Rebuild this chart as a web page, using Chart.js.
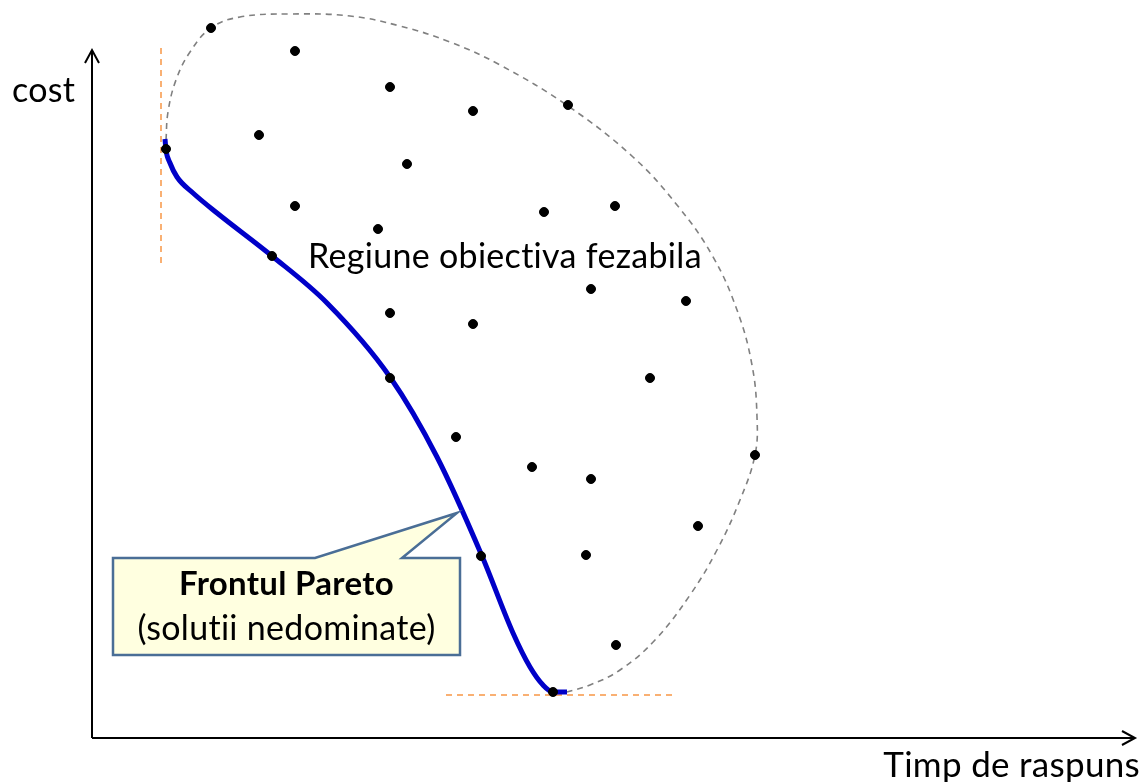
<!DOCTYPE html>
<html>
<head>
<meta charset="utf-8">
<script src="https://cdn.jsdelivr.net/npm/chart.js@4.4.1/dist/chart.umd.min.js"></script>
<style>
  html, body { margin: 0; padding: 0; background: #ffffff; }
  #wrap { width: 1143px; height: 782px; }
</style>
</head>
<body>
<div id="wrap"><canvas id="pareto" width="1143" height="782"></canvas></div>
<script>
// Spatiul obiectivelor: x = timp de raspuns, y = cost (unitati arbitrare)
const solX = [11.9, 20.3, 29.8, 38.1, 47.6, 16.7, 31.5, 7.4, 20.3, 28.6, 45.2, 52.3, 18.0, 49.9,
              59.4, 29.8, 38.1, 55.8, 29.8, 36.4, 44.0, 49.9, 66.3, 60.6, 38.9, 49.4, 52.4, 46.1];
const solY = [71.0, 68.7, 65.1, 62.7, 63.3, 60.3, 57.4, 58.9, 53.2, 50.9, 52.6, 53.2, 48.2, 44.9,
              43.7, 42.5, 41.4, 36.0, 36.0, 30.1, 27.1, 25.9, 28.3, 21.2, 18.2, 18.3, 9.3, 4.6];

// frontul Pareto (curba albastra)
const frontX = [7.3, 7.4, 7.8, 8.5, 10.1, 12.5, 18.0, 23.5, 29.8, 34.5, 39.0, 42.1, 43.8, 45.1, 46.1, 47.5];
const frontY = [59.9, 58.8, 57.5, 56.1, 54.5, 52.5, 48.2, 43.5, 36.1, 28.1, 18.2, 10.5, 7.1, 5.3, 4.6, 4.6];

// conturul regiunii fezabile (linie punctata gri)
const regX = [7.4, 7.6, 8.4, 9.8, 11.9, 14.8, 19.8, 25.8, 30.8, 35.8, 40.8, 47.6, 54.1, 58.5, 62.0,
              64.5, 66.0, 66.5, 66.3, 64.8, 62.5, 59.8, 56.3, 52.8, 49.8, 47.5];
const regY = [59.8, 62.6, 65.8, 68.6, 71.0, 72.1, 72.4, 72.2, 71.2, 69.6, 67.3, 63.2, 58.1, 53.3, 48.3,
              42.8, 37.3, 32.1, 28.3, 23.8, 18.8, 14.3, 9.8, 6.8, 5.3, 4.6];

// limite ideale (portocaliu)
const idealVX = [6.9, 6.9];
const idealVY = [69.0, 47.5];
const idealHX = [35.4, 58.3];
const idealHY = [4.3, 4.3];

const xLabel = 'Timp de raspuns';
const yLabel = 'cost';
const regionLabel = 'Regiune obiectiva fezabila';
const calloutTitle = 'Frontul Pareto';
const calloutSub = '(solutii nedominate)';

const pts = (xs, ys) => xs.map((x, i) => ({ x: x, y: ys[i] }));

const FONT = 'Lato, "Open Sans", sans-serif';

const decor = {
    id: 'decor',
    afterDatasetsDraw(chart) {
        const ctx = chart.ctx;
        const sx = chart.scales.x, sy = chart.scales.y;
        const px = v => sx.getPixelForValue(v);
        const py = v => sy.getPixelForValue(v);
        ctx.save();
        // fara ligaturi "ti"
        ctx.letterSpacing = '0.3px';

        // axe cu sageti
        const ox = px(0), oy = py(0);
        const yTop = py(68.8), xEnd = px(104.3);
        ctx.strokeStyle = '#000';
        ctx.lineWidth = 2;
        ctx.beginPath();
        ctx.moveTo(ox, oy); ctx.lineTo(ox, yTop);
        ctx.moveTo(ox, oy); ctx.lineTo(xEnd, oy);
        ctx.stroke();
        ctx.beginPath();
        ctx.moveTo(ox - 7, yTop + 13); ctx.lineTo(ox, yTop); ctx.lineTo(ox + 7, yTop + 13);
        ctx.moveTo(xEnd - 13, oy - 7); ctx.lineTo(xEnd, oy); ctx.lineTo(xEnd - 13, oy + 7);
        ctx.stroke();

        // etichete axe
        ctx.fillStyle = '#000';
        ctx.textBaseline = 'alphabetic';
        ctx.font = '34px ' + FONT;
        ctx.textAlign = 'left';
        ctx.fillText(yLabel, px(-8.0), py(63.6));
        ctx.font = '35px ' + FONT;
        ctx.textAlign = 'right';
        ctx.fillText(xLabel, px(104.8), py(-3.9));

        ctx.textAlign = 'left';
        ctx.font = '34px ' + FONT;
        ctx.fillText(regionLabel, px(21.6), py(47.0));

        // balon explicativ
        const l = px(2.1), r = px(36.8), t = py(18.0), b = py(8.3);
        ctx.beginPath();
        ctx.moveTo(l, t);
        ctx.lineTo(px(22.3), t);
        ctx.lineTo(px(36.5), py(22.5));
        ctx.lineTo(px(31.0), t);
        ctx.lineTo(r, t);
        ctx.lineTo(r, b);
        ctx.lineTo(l, b);
        ctx.closePath();
        ctx.fillStyle = '#ffffe0';
        ctx.fill();
        ctx.strokeStyle = '#4a6e96';
        ctx.lineWidth = 2.5;
        ctx.lineJoin = 'miter';
        ctx.stroke();

        ctx.fillStyle = '#000';
        ctx.textAlign = 'center';
        const cx = (l + r) / 2;
        ctx.font = 'bold 33px ' + FONT;
        ctx.fillText(calloutTitle, cx, py(14.3));
        ctx.font = '34px ' + FONT;
        ctx.fillText(calloutSub, cx, py(9.8));
        ctx.restore();
    }
};

new Chart(document.getElementById('pareto').getContext('2d'), {
    type: 'scatter',
    data: {
        datasets: [{
            label: 'Solutii',
            data: pts(solX, solY),
            backgroundColor: '#000',
            borderColor: '#000',
            pointRadius: 4.5,
            showLine: false,
            order: 0
        }, {
            label: 'Frontul Pareto',
            data: pts(frontX, frontY),
            borderColor: '#0000c8',
            borderWidth: 5,
            pointRadius: 0,
            showLine: true,
            cubicInterpolationMode: 'monotone',
            order: 1
        }, {
            label: 'Regiune fezabila',
            data: pts(regX, regY),
            borderColor: '#808080',
            borderWidth: 1.6,
            borderDash: [6, 5],
            pointRadius: 0,
            showLine: true,
            tension: 0.4,
            order: 2
        }, {
            label: 'Ideal cost',
            data: pts(idealVX, idealVY),
            borderColor: '#f79646',
            borderWidth: 1.5,
            borderDash: [6, 5],
            pointRadius: 0,
            showLine: true,
            order: 3
        }, {
            label: 'Ideal timp',
            data: pts(idealHX, idealHY),
            borderColor: '#f79646',
            borderWidth: 1.5,
            borderDash: [6, 5],
            pointRadius: 0,
            showLine: true,
            order: 3
        }]
    },
    options: {
        responsive: false,
        animation: false,
        layout: { padding: 0, autoPadding: false },
        plugins: {
            legend: { display: false },
            tooltip: { enabled: false }
        },
        scales: {
            x: { type: 'linear', min: -9.2, max: 105.1, display: false },
            y: { type: 'linear', min: -4.4, max: 73.8, display: false }
        }
    },
    plugins: [decor]
});
</script>
</body>
</html>
